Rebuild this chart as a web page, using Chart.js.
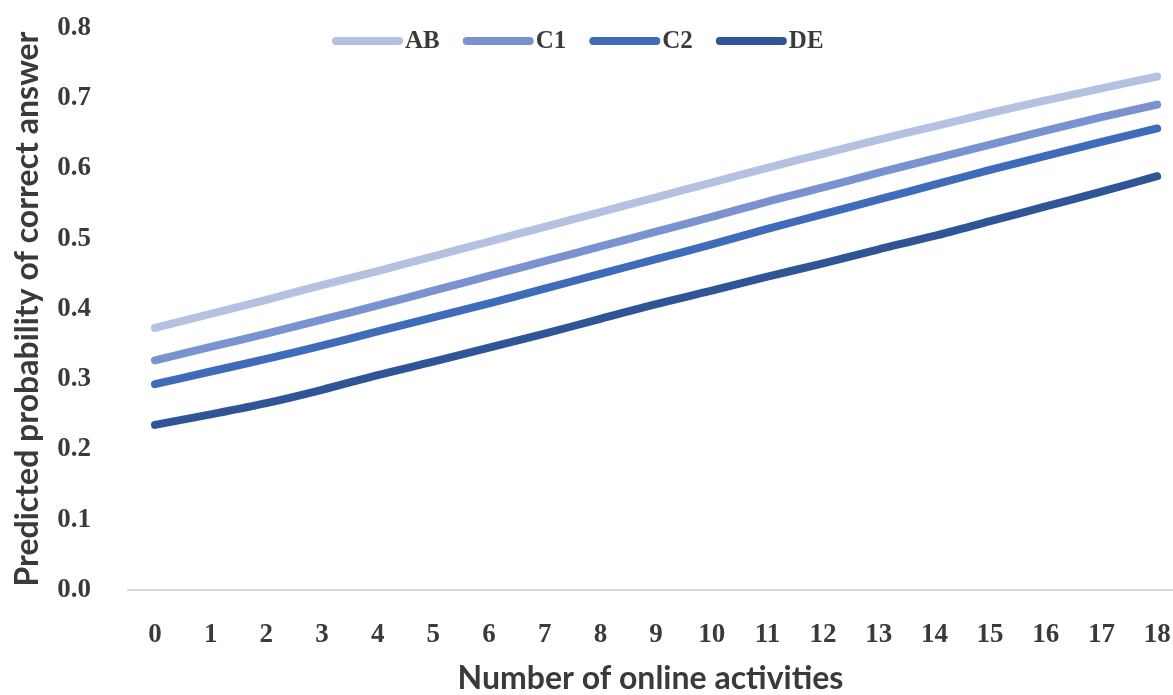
<!DOCTYPE html>
<html>
<head>
<meta charset="utf-8">
<script src="https://cdn.jsdelivr.net/npm/chart.js@4/dist/chart.umd.min.js"></script>
<style>
  html, body { margin: 0; padding: 0; background: #ffffff; }
  #wrap { width: 1173px; height: 695px; position: relative; }
</style>
</head>
<body>
<div id="wrap"><canvas id="c" width="1173" height="695"></canvas></div>
<script>
const categories = ["0","1","2","3","4","5","6","7","8","9","10","11","12","13","14","15","16","17","18"];
const seriesNames = ["AB", "C1", "C2", "DE"];
const AB = [0.373,0.393,0.413,0.434,0.454,0.475,0.496,0.517,0.538,0.559,0.580,0.601,0.621,0.641,0.660,0.679,0.697,0.714,0.731];
const C1 = [0.327,0.346,0.365,0.385,0.405,0.426,0.447,0.468,0.489,0.510,0.531,0.553,0.573,0.594,0.614,0.634,0.654,0.673,0.691];
const C2 = [0.293,0.311,0.329,0.348,0.368,0.388,0.408,0.429,0.450,0.471,0.492,0.514,0.535,0.556,0.577,0.598,0.618,0.638,0.657];
const DE = [0.235,0.250,0.266,0.285,0.306,0.325,0.345,0.365,0.386,0.407,0.426,0.446,0.465,0.485,0.504,0.525,0.546,0.567,0.589];
const yTicks = ["0.0","0.1","0.2","0.3","0.4","0.5","0.6","0.7","0.8"];
const colors = ["#b4c1e1", "#7a92d0", "#3e6cbb", "#2f5597"];
const seriesValues = [AB, C1, C2, DE];

const tickFont = { family: "'Liberation Serif', 'DejaVu Serif', serif", size: 27, weight: 'bold' };
const titleFont = { family: "Lato, 'Open Sans', sans-serif", size: 32, weight: 'bold', lineHeight: 1 };
const textColor = '#3a3a3a';

const datasets = seriesNames.map((name, k) => ({
  label: name,
  data: seriesValues[k].map((v, i) => ({ x: Number(categories[i]), y: v })),
  borderColor: colors[k],
  backgroundColor: colors[k],
  borderWidth: 8,
  borderCapStyle: 'round',
  borderJoinStyle: 'round',
  pointRadius: 0,
  pointHoverRadius: 0,
  tension: 0.3,
  fill: false,
  clip: false
}));

const legendPlugin = {
  id: 'topLegend',
  afterDraw(chart) {
    const ctx = chart.ctx;
    ctx.save();
    ctx.font = "bold 25px 'Liberation Serif', 'DejaVu Serif', serif";
    ctx.textBaseline = 'middle';
    ctx.textAlign = 'left';
    let x = 332;
    const y = 41;
    chart.data.datasets.forEach(ds => {
      ctx.strokeStyle = ds.borderColor;
      ctx.lineWidth = 8;
      ctx.lineCap = 'round';
      ctx.beginPath();
      ctx.moveTo(x + 4, y);
      ctx.lineTo(x + 67, y);
      ctx.stroke();
      ctx.fillStyle = textColor;
      ctx.fillText(ds.label, x + 73, y + 1);
      const w = ctx.measureText(ds.label).width;
      x += 73 + w + 23;
    });
    ctx.restore();
  }
};

new Chart(document.getElementById('c'), {
  type: 'line',
  data: { datasets },
  plugins: [legendPlugin],
  options: {
    responsive: false,
    animation: false,
    layout: { padding: { top: 28, right: 0, left: 0, bottom: 0 } },
    plugins: { legend: { display: false }, tooltip: { enabled: false } },
    scales: {
      x: {
        type: 'linear',
        min: -0.485,
        max: 18.285,
        afterBuildTicks(scale) { scale.ticks = categories.map(c => ({ value: Number(c) })); },
        afterFit(scale) { scale.height = 105; scale.paddingLeft = 0; scale.paddingRight = 0; },
        ticks: {
          font: tickFont, color: textColor, padding: 29, maxRotation: 0, autoSkip: false,
          callback(v) { const i = categories.indexOf(String(v)); return i >= 0 ? categories[i] : ''; }
        },
        grid: { display: false, drawTicks: false },
        border: { display: true, color: '#d9d9d9', width: 2 },
        title: { display: true, text: 'Number of online activities', font: titleFont, color: textColor, padding: { top: 0, bottom: 0 } }
      },
      y: {
        min: 0,
        max: 0.8,
        afterBuildTicks(scale) { scale.ticks = yTicks.map(t => ({ value: Number(t) })); },
        afterFit(scale) { scale.width = 128; scale.paddingTop = 0; scale.paddingBottom = 0; },
        ticks: {
          font: tickFont, color: textColor, padding: 37,
          callback(v) { return Number(v).toFixed(1); }
        },
        grid: { display: false, drawTicks: false },
        border: { display: false },
        title: { display: true, text: 'Predicted probability of correct answer', font: titleFont, color: textColor, padding: { top: 12, bottom: 0 } }
      }
    }
  }
});
</script>
</body>
</html>
